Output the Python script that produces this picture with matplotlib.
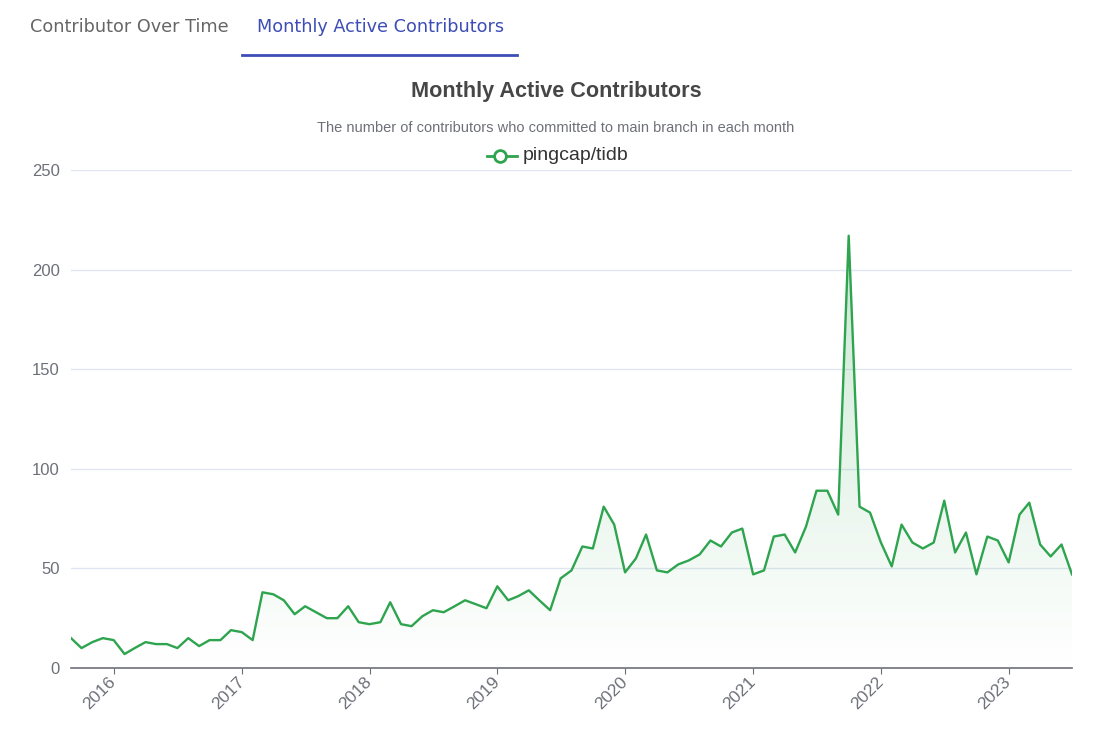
import numpy as np
import matplotlib
matplotlib.use("Agg")
import matplotlib.pyplot as plt
import matplotlib.dates as mdates
from matplotlib.lines import Line2D
import datetime as dt

start_month = (2015, 9)
values = [
    15, 10, 13, 15,
    14, 7, 10, 13, 12, 12, 10, 15, 11, 14, 14, 19,
    18, 14, 38, 37, 34, 27, 31, 28, 25, 25, 31, 23,
    22, 23, 33, 22, 21, 26, 29, 28, 31, 34, 32, 30,
    41, 34, 36, 39, 34, 29, 45, 49, 61, 60, 81, 72,
    48, 55, 67, 49, 48, 52, 54, 57, 64, 61, 68, 70,
    47, 49, 66, 67, 58, 71, 89, 89, 77, 217, 81, 78,
    63, 51, 72, 63, 60, 63, 84, 58, 68, 47, 66, 64,
    53, 77, 83, 62, 56, 62, 47,
]
series_name = "pingcap/tidb"
title = "Monthly Active Contributors"
subtitle = "The number of contributors who committed to main branch in each month"
tabs = ["Contributor Over Time", "Monthly Active Contributors"]
year_ticks = list(range(2016, 2024))
y_ticks = [0, 50, 100, 150, 200, 250]

dates = []
y, m = start_month
for _ in values:
    dates.append(dt.date(y, m, 1))
    m += 1
    if m > 12:
        m = 1
        y += 1

green = "#2ea44f"
fig = plt.figure(figsize=(11.08, 7.40), dpi=100)
fig.patch.set_facecolor("white")
ax = fig.add_axes([71 / 1108, 1 - 668 / 740, (1072 - 71) / 1108, (668 - 170) / 740])

xd = mdates.date2num(dates)

# gradient fill
poly = ax.fill_between(xd, values, 0, color="none")
grad = np.linspace(0, 1, 256).reshape(-1, 1)
rgba = np.zeros((256, 1, 4))
rgba[..., 0] = 0x2e / 255
rgba[..., 1] = 0xa4 / 255
rgba[..., 2] = 0x4f / 255
rgba[..., 3] = grad * 0.25
img = ax.imshow(rgba, extent=[xd[0], xd[-1], 0, max(values)], origin="lower",
                aspect="auto", zorder=1)
img.set_clip_path(poly.get_paths()[0], transform=ax.transData)
ax.set_xlim(xd[0], xd[-1])
ax.set_ylim(0, 250)

ax.plot(xd, values, color=green, lw=1.7, zorder=3)

for t in y_ticks[1:]:
    ax.axhline(t, color="#e0e6f1", lw=1, zorder=0)

for s in ["top", "right", "left"]:
    ax.spines[s].set_visible(False)
ax.spines["bottom"].set_color("#6e7079")
ax.spines["bottom"].set_linewidth(1.2)

ax.set_yticks(y_ticks)
ax.set_yticklabels([str(v) for v in y_ticks], fontsize=12, color="#6e7079",
                   family="Liberation Sans")
ax.tick_params(axis="y", length=0, pad=8)
xt = [mdates.date2num(dt.date(yy, 1, 1)) for yy in year_ticks]
ax.set_xticks(xt)
ax.set_xticklabels([str(yy) for yy in year_ticks], rotation=45, ha="right",
                   va="center", rotation_mode="anchor", fontsize=12.5,
                   color="#6e7079", family="Liberation Sans")
ax.tick_params(axis="x", length=4, color="#6e7079", pad=4)

# title, subtitle
fig.text(556 / 1108, 1 - 92 / 740, title, ha="center", va="center",
         fontsize=15.6, fontweight="bold", color="#464646", family="Liberation Sans")
fig.text(556 / 1108, 1 - 128 / 740, subtitle, ha="center", va="center",
         fontsize=10.5, color="#6e7079", family="Liberation Sans")

# legend
ly = 1 - 156 / 740
fig.add_artist(Line2D([487 / 1108, 517 / 1108], [ly, ly], color=green, lw=2,
                      transform=fig.transFigure))
fig.add_artist(Line2D([500 / 1108], [ly], marker="o", markersize=8.5,
                      markerfacecolor="white", markeredgecolor=green,
                      markeredgewidth=2, transform=fig.transFigure))
fig.text(523 / 1108, ly, series_name, ha="left", va="center", fontsize=14,
         color="#333333", family="Liberation Sans")

# tabs
fig.text(30 / 1108, 1 - 27 / 740, tabs[0], ha="left", va="center", fontsize=12.7,
         color="#666666", family="DejaVu Sans")
fig.text(257 / 1108, 1 - 27 / 740, tabs[1], ha="left", va="center", fontsize=12.7,
         color="#3d4db7", family="DejaVu Sans")
fig.add_artist(Line2D([242 / 1108, 517 / 1108], [1 - 55 / 740, 1 - 55 / 740],
                      color="#3d4db7", lw=2, transform=fig.transFigure))

fig.savefig("out.png", dpi=100, facecolor="white")
